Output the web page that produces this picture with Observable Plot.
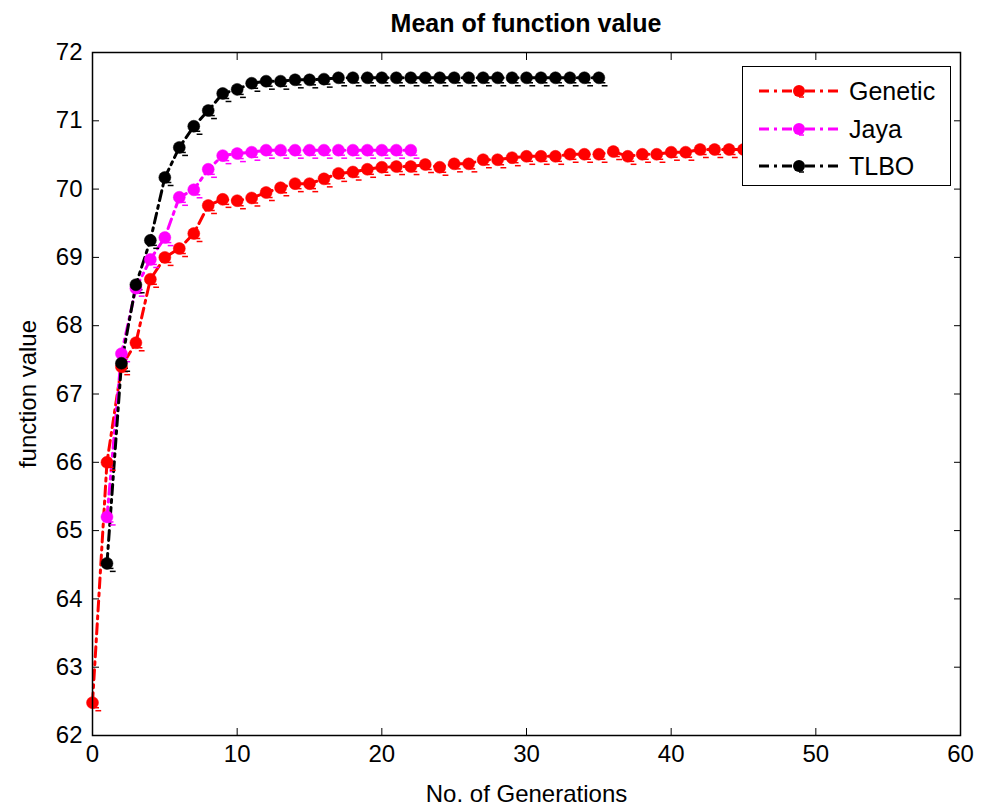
<!DOCTYPE html>
<html><head><meta charset="utf-8">
<script src="https://cdn.jsdelivr.net/npm/d3@7"></script>
<script src="https://cdn.jsdelivr.net/npm/@observablehq/plot@0.6"></script>
<style>
body{margin:0;background:#fff;font-family:"Liberation Sans",Arial,sans-serif;}
#wrap{position:relative;width:984px;height:809px;overflow:hidden;}
#title{position:absolute;top:9px;left:92px;width:868px;text-align:center;font-weight:bold;font-size:25px;}
#chart{position:absolute;left:0;top:20px;}
#legend{position:absolute;left:742px;top:66px;width:207px;height:118px;border:1.5px solid #000;background:#fff;}
#legend .row{position:absolute;left:0;height:30px;width:207px;}
#legend svg{position:absolute;left:0;top:0;}
#legend span{position:absolute;left:106px;top:0;line-height:30px;font-size:25px;}
</style>
</head><body>
<div id="wrap">
  <div id="chart"></div>
  <div id="title">Mean of function value</div>
  <div id="legend"></div>
</div>
<script>
// ---- data ----
const seriesNames = ["Genetic", "Jaya", "TLBO"];
const seriesColors = ["#ff0000", "#ff00ff", "#000000"];
const geneticStart = 0;
const genetic = [62.48, 66.0, 67.4, 67.75, 68.68, 69.0, 69.13, 69.35, 69.76, 69.85, 69.83, 69.87, 69.95, 70.02, 70.08, 70.08, 70.15, 70.23, 70.25, 70.29, 70.32, 70.33, 70.33, 70.36, 70.32, 70.37, 70.37, 70.43, 70.43, 70.46, 70.48, 70.48, 70.48, 70.51, 70.51, 70.51, 70.55, 70.48, 70.51, 70.51, 70.54, 70.54, 70.58, 70.58, 70.58, 70.58, 70.59, 70.59, 70.6, 70.6, 70.6];
const jayaStart = 1;
const jaya = [65.2, 67.59, 68.55, 68.97, 69.29, 69.88, 69.99, 70.29, 70.49, 70.52, 70.54, 70.57, 70.57, 70.57, 70.57, 70.57, 70.57, 70.57, 70.57, 70.57, 70.57, 70.57];
const tlboStart = 1;
const tlbo = [64.52, 67.45, 68.6, 69.25, 70.17, 70.61, 70.92, 71.15, 71.40, 71.46, 71.55, 71.58, 71.58, 71.60, 71.60, 71.61, 71.63, 71.63, 71.63, 71.63, 71.63, 71.63, 71.63, 71.63, 71.63, 71.63, 71.63, 71.63, 71.63, 71.63, 71.63, 71.63, 71.63, 71.63, 71.63];
const xTicks = [0, 10, 20, 30, 40, 50, 60];
const yTicks = [62, 63, 64, 65, 66, 67, 68, 69, 70, 71, 72];

// ---- build table ----
const raw = [[genetic, geneticStart], [jaya, jayaStart], [tlbo, tlboStart]];
const rows = [];
raw.forEach(([vals, start], si) => vals.forEach((v, i) => rows.push({series: seriesNames[si], x: start + i, y: v})));
const colorScale = {domain: seriesNames, range: seriesColors};
const dash = "10,5,3,5";
const fontSize = 24;

const plot = Plot.plot({
  width: 984, height: 789,
  marginTop: 32, marginBottom: 74, marginLeft: 92, marginRight: 24,
  style: {fontFamily: '"Liberation Sans", Arial, sans-serif', fontSize: fontSize + "px", color: "#000", overflow: "visible"},
  x: {domain: [0, 60]},
  y: {domain: [62, 72]},
  color: colorScale,
  marks: [
    Plot.line(rows, {x: "x", y: "y", z: "series", stroke: "series", strokeWidth: 3, strokeDasharray: dash}),
    Plot.link(rows, {x1: d => d.x + 0.05, x2: d => d.x + 0.45, y1: "y", y2: "y", dy: 5, stroke: "series", strokeWidth: 1.5}),
    Plot.link(rows, {x1: d => d.x + 0.2, x2: d => d.x + 0.6, y1: "y", y2: "y", dy: 8, stroke: "series", strokeWidth: 1.5}),
    Plot.dot(rows, {x: "x", y: "y", r: 6, fill: "series", stroke: "series", strokeWidth: 0.5}),
    Plot.frame({stroke: "#000", strokeWidth: 1.5}),
    Plot.axisX({anchor: "bottom", ticks: xTicks, tickSize: 0, tickPadding: 9, fontSize, label: "No. of Generations", labelAnchor: "center", labelArrow: "none", labelOffset: 66}),
    Plot.axisX({anchor: "bottom", ticks: xTicks, tickSize: -7, tickFormat: () => "", label: null}),
    Plot.axisX({anchor: "top", ticks: xTicks, tickSize: -7, tickFormat: () => "", label: null}),
    Plot.axisY({anchor: "left", ticks: yTicks, tickSize: 0, tickPadding: 10, fontSize, label: "function value", labelAnchor: "center", labelArrow: "none", labelOffset: 74}),
    Plot.axisY({anchor: "left", ticks: yTicks, tickSize: -7, tickFormat: () => "", label: null}),
    Plot.axisY({anchor: "right", ticks: yTicks, tickSize: -7, tickFormat: () => "", label: null})
  ]
});
document.getElementById("chart").appendChild(plot);

// ---- legend ----
const legend = document.getElementById("legend");
const rowTops = [9, 47, 84];
seriesNames.forEach((name, i) => {
  const row = document.createElement("div");
  row.className = "row";
  row.style.top = rowTops[i] + "px";
  row.innerHTML = `<svg width="100" height="30"><line x1="16" x2="96" y1="15" y2="15" stroke="${seriesColors[i]}" stroke-width="3" stroke-dasharray="${dash}"/><circle cx="56" cy="15" r="6" fill="${seriesColors[i]}"/><line x1="56" x2="61" y1="21" y2="21" stroke="${seriesColors[i]}" stroke-width="1.5"/></svg><span>${name}</span>`;
  legend.appendChild(row);
});
</script>
</body></html>
